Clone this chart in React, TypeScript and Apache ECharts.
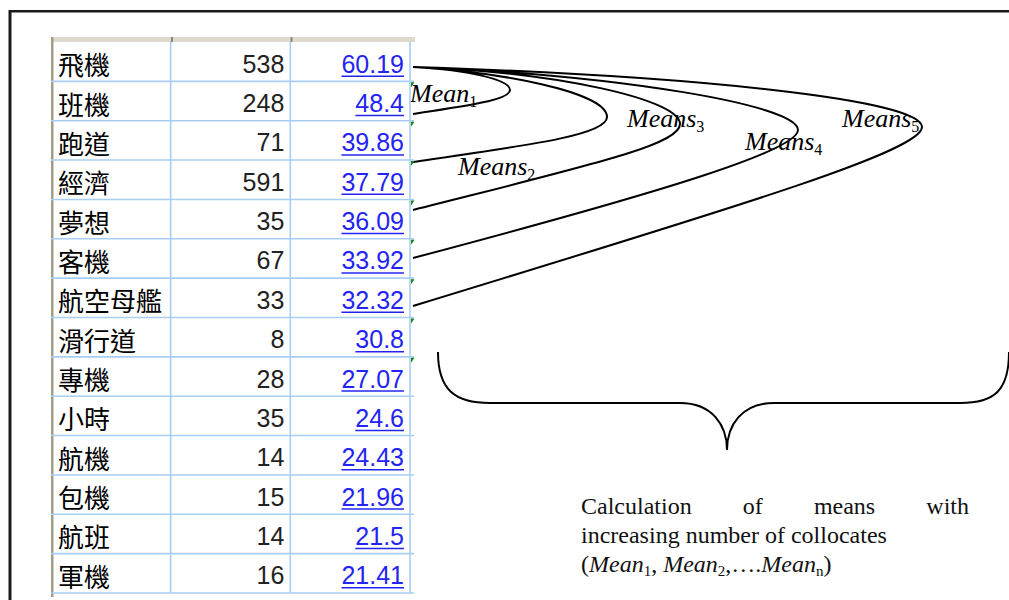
import React, { useEffect, useRef } from 'react';
import * as echarts from 'echarts';

// ---------------- data ----------------
const words = ['飛機', '班機', '跑道', '經濟', '夢想', '客機', '航空母艦', '滑行道', '專機', '小時', '航機', '包機', '航班', '軍機'];
const freqs = [538, 248, 71, 591, 35, 67, 33, 8, 28, 35, 14, 15, 14, 16];
const scores = [60.19, 48.4, 39.86, 37.79, 36.09, 33.92, 32.32, 30.8, 27.07, 24.6, 24.43, 21.96, 21.5, 21.41];
const flaggedRows = [1, 2, 3, 4, 5, 6, 7, 8];
const loopLabels = [
  { name: 'Mean', sub: '1' },
  { name: 'Means', sub: '2' },
  { name: 'Means', sub: '3' },
  { name: 'Means', sub: '4' },
  { name: 'Means', sub: '5' },
];
const captionLine1 = ['Calculation', 'of', 'means', 'with'];
const captionLine2 = 'increasing number of collocates';

// ---------------- layout (annotation geometry) ----------------
const labelPos = [
  [410, 102],
  [458, 175],
  [627, 127],
  [745, 150],
  [842, 127],
];
const loopStart = [413, 67];
const loops = [
  { c1: [470, 70], c2: [510, 80], a: [510, 90], d1: [510, 100], d2: [470, 105], e: [413, 114] },
  { c1: [500, 72], c2: [607, 92], a: [607, 117], d1: [607, 135], d2: [530, 145], e: [413, 162] },
  { c1: [560, 72], c2: [680, 100], a: [680, 124], d1: [680, 145], d2: [590, 165], e: [413, 210] },
  { c1: [620, 75], c2: [798, 105], a: [798, 130], d1: [798, 150], d2: [670, 190], e: [413, 258] },
  { c1: [700, 76], c2: [922, 100], a: [922, 127], d1: [922, 150], d2: [760, 200], e: [413, 306] },
];

const p = (pt: number[]) => `${pt[0]},${pt[1]}`;
const loopsPath = loops
  .map((l) => `M${p(loopStart)} C${p(l.c1)} ${p(l.c2)} ${p(l.a)} C${p(l.d1)} ${p(l.d2)} ${p(l.e)}`)
  .join(' ');
const bracePath =
  'M438,352 C438,390 455,403 490,403 L680,403 C712,403 727,425 727,450 ' +
  'C727,425 742,403 774,403 L960,403 C995,403 1009,390 1009,352';

echarts.graphic.registerShape('meanLoops', echarts.graphic.extendPath(loopsPath, {}) as any);
echarts.graphic.registerShape('brace', echarts.graphic.extendPath(bracePath, {}) as any);

// ---------------- helpers ----------------
let mctx: CanvasRenderingContext2D | null = null;
function measure(text: string, font: string, fallbackEm: number, size: number) {
  try {
    if (!mctx) mctx = document.createElement('canvas').getContext('2d');
    if (mctx) {
      mctx.font = font;
      return mctx.measureText(text).width;
    }
  } catch (e) {}
  return text.length * fallbackEm * size;
}

const SERIF = 'Liberation Serif';
const SANS = 'Liberation Sans';
const CJK = 'Noto Sans CJK TC';

type Seg = { t: string; size: number; italic?: boolean; shift?: number };
function segs(x0: number, base: number, list: Seg[], fill: string) {
  const out: any[] = [];
  let x = x0;
  for (const s of list) {
    const font = `${s.italic ? 'italic ' : ''}${s.size}px "${SERIF}"`;
    out.push({
      type: 'text',
      x,
      y: base + (s.shift || 0) - 0.34 * s.size,
      style: {
        text: s.t,
        fontSize: s.size,
        fontFamily: SERIF,
        fontStyle: s.italic ? 'italic' : 'normal',
        fill,
        align: 'left',
        verticalAlign: 'middle',
        textAlign: 'left',
        textVerticalAlign: 'middle',
      },
    });
    x += measure(s.t, font, 0.5, s.size);
  }
  return out;
}

function buildOption(): any {
  const graphics: any[] = [];
  // outer frame
  graphics.push({ type: 'rect', shape: { x: 9, y: 10, width: 1000, height: 2.5 }, style: { fill: '#1a1a1a' } });
  graphics.push({ type: 'rect', shape: { x: 8.5, y: 10, width: 3, height: 590 }, style: { fill: '#1a1a1a' } });
  // table header strip and left border
  graphics.push({ type: 'rect', shape: { x: 51, y: 37, width: 364, height: 5 }, style: { fill: '#dedad0' } });
  [51, 171, 290.5].forEach((x) =>
    graphics.push({ type: 'rect', shape: { x, y: 37, width: 2, height: 5 }, style: { fill: '#8a8676' } })
  );
  graphics.push({ type: 'rect', shape: { x: 51, y: 37, width: 2.5, height: 560 }, style: { fill: '#a29d8b' } });
  // loops and brace
  graphics.push({ type: 'meanLoops', style: { stroke: '#000', fill: 'none', lineWidth: 2 } });
  graphics.push({ type: 'brace', style: { stroke: '#000', fill: 'none', lineWidth: 2 } });
  // loop labels
  loopLabels.forEach((l, i) => {
    graphics.push(
      ...segs(labelPos[i][0], labelPos[i][1], [
        { t: l.name, size: 26, italic: true },
        { t: l.sub, size: 16, shift: 5 },
      ], '#000')
    );
  });
  // caption line 1 justified
  const cx0 = 581;
  const cx1 = 969;
  const cSize = 24;
  const cFont = `${cSize}px "${SERIF}"`;
  const widths = captionLine1.map((w) => measure(w, cFont, 0.5, cSize));
  const gap = (cx1 - cx0 - widths.reduce((a, b) => a + b, 0)) / (captionLine1.length - 1);
  let xx = cx0;
  captionLine1.forEach((w, i) => {
    graphics.push(...segs(xx, 514, [{ t: w, size: cSize }], '#111'));
    xx += widths[i] + gap;
  });
  graphics.push(...segs(cx0, 543, [{ t: captionLine2, size: cSize }], '#111'));
  graphics.push(
    ...segs(cx0, 572, [
      { t: '(', size: cSize },
      { t: 'Mean', size: cSize, italic: true },
      { t: '1', size: 15, shift: 4 },
      { t: ', ', size: cSize },
      { t: 'Mean', size: cSize, italic: true },
      { t: '2', size: 15, shift: 4 },
      { t: ',….', size: cSize },
      { t: 'Mean', size: cSize, italic: true },
      { t: 'n', size: 15, shift: 4 },
      { t: ')', size: cSize },
    ], '#111')
  );

  const gridBlue = '#a9cdf3';
  const scoreBlue = '#2424f2';

  return {
    animation: false,
    backgroundColor: '#fff',
    grid: { left: 51, top: 42, width: 359, height: 551 },
    xAxis: { type: 'value', min: 0, max: 3, show: false },
    yAxis: { type: 'category', data: words, inverse: true, show: false },
    graphic: { elements: graphics },
    series: [
      {
        type: 'custom',
        silent: true,
        clip: false,
        encode: { x: 0, y: 1 },
        data: words.map((w, i) => [0, i, freqs[i], scores[i]]),
        renderItem: (params: any, api: any) => {
          const idx = params.dataIndex;
          const c0 = api.coord([0, idx]);
          const x0 = c0[0];
          const x1 = api.coord([1, idx])[0];
          const x2 = api.coord([2, idx])[0];
          const x3 = api.coord([3, idx])[0];
          const h = api.size([0, 1])[1];
          const cy = c0[1];
          const top = cy - h / 2;
          const bot = cy + h / 2;
          const scoreText = String(api.value(3));
          const sw = measure(scoreText, `25px "${SANS}"`, 0.556, 25);
          const children: any[] = [
            { type: 'line', shape: { x1: x0, y1: bot, x2: x3 + 4, y2: bot }, style: { stroke: gridBlue, lineWidth: 1.6 } },
            { type: 'line', shape: { x1: x1, y1: top, x2: x1, y2: bot }, style: { stroke: gridBlue, lineWidth: 1.6 } },
            { type: 'line', shape: { x1: x2, y1: top, x2: x2, y2: bot }, style: { stroke: gridBlue, lineWidth: 1.6 } },
            { type: 'line', shape: { x1: x3, y1: top, x2: x3, y2: bot }, style: { stroke: gridBlue, lineWidth: 1.6 } },
            {
              type: 'text', x: x0 + 7, y: cy + 2,
              style: { text: words[idx], fontSize: 26, fontFamily: CJK, fill: '#000', align: 'left', verticalAlign: 'middle' },
            },
            {
              type: 'text', x: x2 - 6, y: cy + 2,
              style: { text: String(api.value(2)), fontSize: 25, fontFamily: SANS, fill: '#222', align: 'right', verticalAlign: 'middle' },
            },
            {
              type: 'text', x: x3 - 6, y: cy + 2,
              style: { text: scoreText, fontSize: 25, fontFamily: SANS, fill: scoreBlue, align: 'right', verticalAlign: 'middle' },
            },
            {
              type: 'line', shape: { x1: x3 - 6 - sw, y1: cy + 14.5, x2: x3 - 6, y2: cy + 14.5 },
              style: { stroke: scoreBlue, lineWidth: 1.5 },
            },
          ];
          if (flaggedRows.indexOf(idx) >= 0) {
            children.push({
              type: 'polygon',
              shape: { points: [[x3 + 1, top + 1], [x3 + 4.5, top + 1], [x3 + 1, top + 6]] },
              style: { fill: '#11881a' },
            });
          }
          return { type: 'group', children };
        },
      },
    ],
  };
}

export default function App() {
  const ref = useRef<HTMLDivElement>(null);
  useEffect(() => {
    if (!ref.current) return;
    const chart = echarts.init(ref.current, null, { renderer: 'svg', width: 1009, height: 600 });
    chart.setOption(buildOption());
    return () => chart.dispose();
  }, []);
  return (
    <div
      ref={ref}
      style={{ position: 'fixed', left: 0, top: 0, width: 1009, height: 600, background: '#fff' }}
    />
  );
}
